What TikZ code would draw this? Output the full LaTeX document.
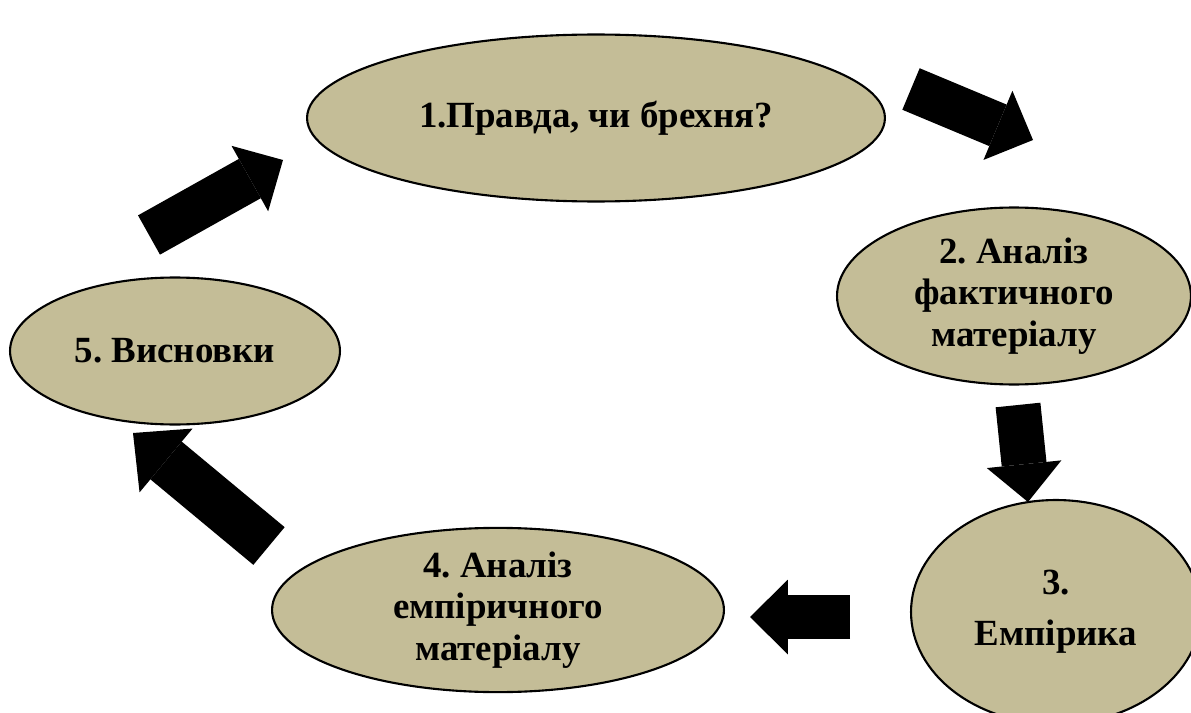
\documentclass[tikz,border=0pt]{standalone}
\usepackage{fontspec}
\setmainfont{Liberation Serif}
\usepackage{tikz}
\usetikzlibrary{arrows.meta,shapes,positioning,calc}
\definecolor{stagefill}{RGB}{196,189,151}
\frenchspacing
\tikzset{
    stage/.style={
        ellipse,
        draw=black,
        line width=1.2pt,
        fill=stagefill,
        inner sep=0pt,
        align=center,
        font=\fontsize{21}{23.5}\selectfont\bfseries,
    },
    bigarrow/.style={
        line width=0.9cm,
        -{Triangle[width=1.5cm,length=0.76cm,line width=0pt]},
    },
    widearrow/.style={
        line width=0.98cm,
        -{Triangle[width=1.66cm,length=0.86cm,line width=0pt]},
    },
}

\begin{document}
\begin{tikzpicture}[x=0.02cm,y=-0.02cm]
	\useasboundingbox (0,0) rectangle (1191,713);
	\node [stage,minimum width=11.56cm,minimum height=3.34cm] (s1) at (596,118) {1.Правда, чи брехня?};
	\node [stage,minimum width=7.08cm,minimum height=3.54cm] (s2) at (1014,296) {2. Аналіз\\фактичного\\матеріалу};
	\node [stage,minimum width=5.8cm,minimum height=4.48cm] (s3) at (1056,612) {3.\\[0.2cm]Емпірика};
	\node [stage,minimum width=9.04cm,minimum height=3.2cm] (s4) at (498,610) {4. Аналіз\\емпіричного\\матеріалу};
	\node [stage,minimum width=6.6cm,minimum height=2.94cm] (s5) at (175,351) {5. Висновки};
	% arrow ends
	\coordinate (t1) at (911,89);
	\coordinate (h1) at (1033,140);
	\coordinate (t2) at (1018,405);
	\coordinate (h2) at (1028,502);
	\coordinate (t3) at (850,617);
	\coordinate (h3) at (750,617);
	\coordinate (t4) at (269,546);
	\coordinate (h4) at (133,433);
	\coordinate (t5) at (149,235);
	\coordinate (h5) at (283,160);
	\draw [bigarrow] (t1) -- (h1);
	\draw [bigarrow] (t2) -- (h2);
	\draw [bigarrow] (t3) -- (h3);
	\draw [widearrow] (t4) -- (h4);
	\draw [bigarrow] (t5) -- (h5);
\end{tikzpicture}
\end{document}
